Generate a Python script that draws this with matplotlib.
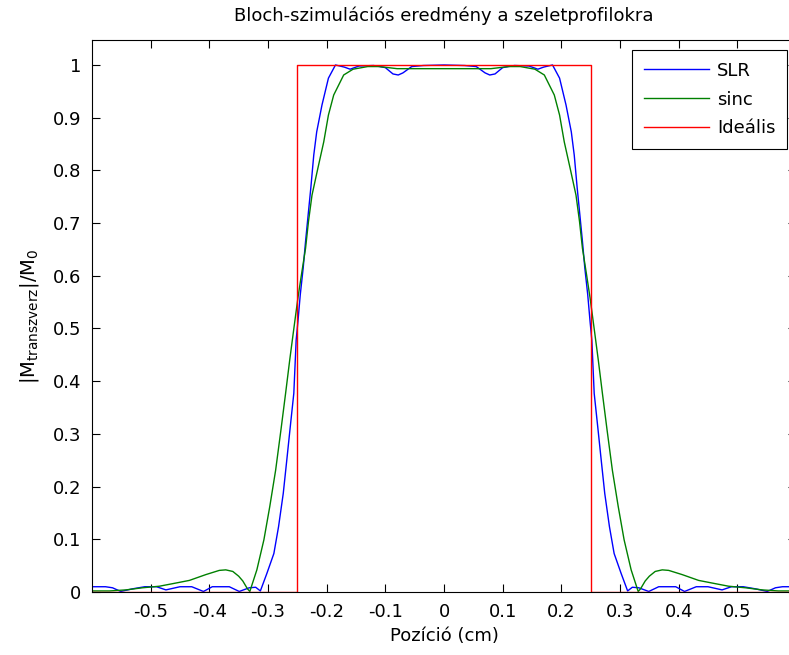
import matplotlib
matplotlib.use("Agg")
import matplotlib.pyplot as plt

plt.rcParams['font.family'] = ['DejaVu Sans']
plt.rcParams['mathtext.fontset'] = 'dejavusans'

# SLR pulse profile (blue)
slr_x = [-0.600, -0.577, -0.565, -0.551, -0.531, -0.510, -0.490, -0.474, -0.450, -0.430,
         -0.410, -0.395, -0.366, -0.349, -0.332, -0.321, -0.313, -0.302, -0.290, -0.282,
         -0.274, -0.268, -0.262, -0.256, -0.252, -0.249, -0.245, -0.240, -0.236, -0.231,
         -0.227, -0.222, -0.217, -0.208, -0.197, -0.185, -0.170, -0.160, -0.145, -0.120,
         -0.100, -0.087, -0.078, -0.070, -0.055, -0.035, 0.000,
         0.035, 0.055, 0.070, 0.078, 0.087, 0.100, 0.120, 0.145, 0.160, 0.170,
         0.185, 0.197, 0.208, 0.217, 0.222, 0.227, 0.231, 0.236, 0.240, 0.245,
         0.249, 0.252, 0.256, 0.262, 0.268, 0.274, 0.282, 0.290, 0.302, 0.313,
         0.321, 0.332, 0.349, 0.366, 0.395, 0.410, 0.430, 0.450, 0.474, 0.490,
         0.510, 0.531, 0.551, 0.565, 0.577, 0.600]
slr_y = [0.010, 0.010, 0.008, 0.001, 0.006, 0.010, 0.010, 0.004, 0.010, 0.010,
         0.001, 0.010, 0.010, 0.001, 0.008, 0.009, 0.002, 0.035, 0.073, 0.124,
         0.187, 0.250, 0.314, 0.377, 0.478, 0.513, 0.564, 0.615, 0.665, 0.722,
         0.767, 0.829, 0.873, 0.924, 0.975, 1.000, 0.996, 0.992, 0.998, 0.999,
         0.995, 0.983, 0.981, 0.985, 0.997, 0.999, 1.000,
         0.999, 0.997, 0.985, 0.981, 0.983, 0.995, 0.999, 0.998, 0.992, 0.996,
         1.000, 0.975, 0.924, 0.873, 0.829, 0.767, 0.722, 0.665, 0.615, 0.564,
         0.513, 0.478, 0.377, 0.314, 0.250, 0.187, 0.124, 0.073, 0.035, 0.002,
         0.009, 0.008, 0.001, 0.010, 0.010, 0.001, 0.010, 0.010, 0.004, 0.010,
         0.010, 0.006, 0.001, 0.008, 0.010, 0.010]

# windowed sinc pulse profile (green)
sinc_x = [-0.600, -0.570, -0.542, -0.514, -0.485, -0.457, -0.434, -0.406, -0.383, -0.372,
          -0.360, -0.350, -0.343, -0.335, -0.331, -0.319, -0.307, -0.297, -0.287, -0.278,
          -0.270, -0.263, -0.257, -0.249, -0.243, -0.236, -0.231, -0.225, -0.215, -0.205,
          -0.197, -0.188, -0.171, -0.155, -0.130, -0.110, -0.080, -0.040, 0.000,
          0.040, 0.080, 0.110, 0.130, 0.155, 0.171, 0.188, 0.197, 0.205, 0.215,
          0.225, 0.231, 0.236, 0.243, 0.249, 0.257, 0.263, 0.270, 0.278, 0.287,
          0.297, 0.307, 0.319, 0.331, 0.335, 0.343, 0.350, 0.360, 0.372, 0.383,
          0.406, 0.434, 0.457, 0.485, 0.514, 0.542, 0.570, 0.600]
sinc_y = [0.002, 0.002, 0.004, 0.008, 0.011, 0.017, 0.022, 0.033, 0.041, 0.042,
          0.039, 0.030, 0.021, 0.006, 0.001, 0.042, 0.099, 0.162, 0.231, 0.307,
          0.377, 0.440, 0.491, 0.558, 0.602, 0.652, 0.703, 0.753, 0.804, 0.854,
          0.905, 0.943, 0.981, 0.992, 0.997, 0.997, 0.993, 0.993, 0.993,
          0.993, 0.993, 0.997, 0.997, 0.992, 0.981, 0.943, 0.905, 0.854, 0.804,
          0.753, 0.703, 0.652, 0.602, 0.558, 0.491, 0.440, 0.377, 0.307, 0.231,
          0.162, 0.099, 0.042, 0.001, 0.006, 0.021, 0.030, 0.039, 0.042, 0.041,
          0.033, 0.022, 0.017, 0.011, 0.008, 0.004, 0.002, 0.002]

# ideal rectangular slice
ideal_x = [-0.6, -0.25, -0.25, 0.25, 0.25, 0.6]
ideal_y = [0, 0, 1, 1, 0, 0]

x_ticks = [-0.5, -0.4, -0.3, -0.2, -0.1, 0, 0.1, 0.2, 0.3, 0.4, 0.5]
y_ticks = [0, 0.1, 0.2, 0.3, 0.4, 0.5, 0.6, 0.7, 0.8, 0.9, 1]

W, H = 789, 655
fig = plt.figure(figsize=(W / 100, H / 100), dpi=100)
ax = fig.add_axes([92 / W, (H - 592) / H, 704 / W, 552 / H])

ax.plot(slr_x, slr_y, color=(0, 0, 1), lw=1.0, label='SLR')
ax.plot(sinc_x, sinc_y, color=(0, 0.5, 0), lw=1.0, label='sinc')
ax.plot(ideal_x, ideal_y, color=(1, 0, 0), lw=1.0, label='Ideális')

ax.set_xlim(-0.6, 0.6)
ax.set_ylim(0, 1.0474)
ax.set_xticks(x_ticks)
ax.set_xticklabels(['%g' % v for v in x_ticks])
ax.set_yticks(y_ticks)
ax.set_yticklabels(['%g' % v for v in y_ticks])
ax.tick_params(direction='in', top=True, right=True, length=6, width=0.8,
               labelsize=13, pad=8)
for sp in ax.spines.values():
    sp.set_linewidth(0.8)
    sp.set_zorder(5)

ax.set_title('Bloch-szimulációs eredmény a szeletprofilokra', fontsize=13, pad=14)
ax.set_xlabel('Pozíció (cm)', fontsize=13, labelpad=4.5)
ax.set_ylabel(r'$|\mathrm{M}_{\mathrm{transzverz}}|/\mathrm{M}_0$', fontsize=14, labelpad=8)

leg = ax.legend(loc='upper right', bbox_to_anchor=(787 / W, 1 - 50 / H),
                bbox_transform=fig.transFigure, borderaxespad=0, fontsize=13,
                handlelength=3.6, handletextpad=0.45, labelspacing=0.6,
                borderpad=0.65, fancybox=False, framealpha=1, edgecolor='black')
leg.get_frame().set_linewidth(0.8)

fig.savefig('out.png', dpi=100)
